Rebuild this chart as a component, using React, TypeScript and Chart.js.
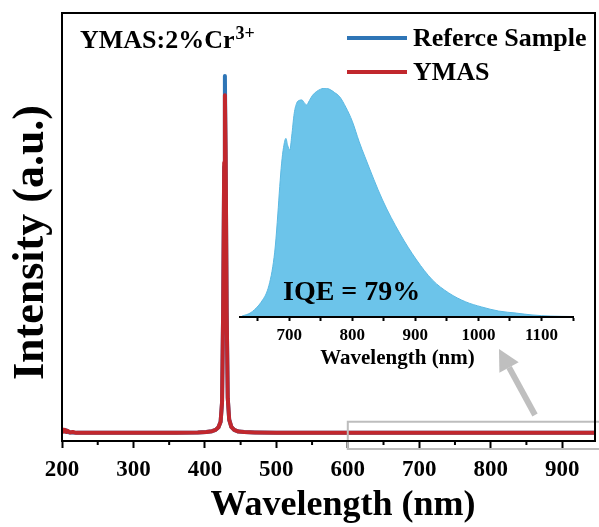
import React, { useEffect, useRef } from "react";
import { Chart, registerables } from "chart.js";

Chart.register(...registerables);

const W = 599;
const H = 527;
const SERIF = '"Liberation Serif", "Times New Roman", serif';

// ---- Main spectrum data ----
const mainWavelengths = [
  200, 202, 204, 206, 208, 211, 215, 220, 240, 280,
  320, 360, 390, 402, 410, 415, 419, 422, 424, 425.5,
  427, 428, 429, 430.5, 432, 434, 437, 441, 447, 455,
  470, 500, 560, 650, 750, 850, 946,
];
const referenceValues = [
  0.026, 0.024, 0.022, 0.025, 0.021, 0.02, 0.02, 0.019, 0.019, 0.019,
  0.019, 0.019, 0.02, 0.021, 0.023, 0.026, 0.032, 0.045, 0.09, 0.3,
  0.64, 0.853, 0.67, 0.3, 0.1, 0.05, 0.033, 0.026, 0.022, 0.021,
  0.02, 0.019, 0.019, 0.019, 0.019, 0.019, 0.019,
];
const ymasValues = [
  0.028, 0.022, 0.026, 0.021, 0.024, 0.02, 0.021, 0.019, 0.019, 0.019,
  0.019, 0.019, 0.02, 0.021, 0.023, 0.026, 0.032, 0.045, 0.09, 0.3,
  0.65, 0.808, 0.68, 0.3, 0.1, 0.05, 0.033, 0.026, 0.022, 0.021,
  0.02, 0.019, 0.019, 0.019, 0.019, 0.019, 0.019,
];
const seriesLabels = ["Referce Sample", "YMAS"];
const seriesColors = ["#2E75B6", "#C1272D"];
const mainMajorTicks = [200, 300, 400, 500, 600, 700, 800, 900];
const mainMinorTicks = [250, 350, 450, 550, 650, 750, 850];
const zoomRangeStart = 600;

// ---- Inset emission spectrum ----
const insetWavelengths = [
  625, 632, 638, 645, 652, 658, 664, 669, 674, 678,
  682, 685, 688, 691, 694.8, 697.5, 701, 704, 708, 712,
  716, 720, 724, 727.5, 732, 737, 743, 750, 757, 765,
  772, 780, 790, 800, 811, 820, 848, 875, 902, 927,
  953, 980, 1005, 1032, 1060, 1085, 1115, 1150,
];
const insetIntensity = [
  0.004, 0.01, 0.017, 0.032, 0.052, 0.075, 0.105, 0.15, 0.22, 0.31,
  0.45, 0.57, 0.672, 0.74, 0.78, 0.75, 0.729, 0.79, 0.89, 0.935,
  0.946, 0.948, 0.935, 0.926, 0.945, 0.968, 0.984, 0.995, 1.0, 0.993,
  0.98, 0.962, 0.915, 0.855, 0.765, 0.7, 0.511, 0.367, 0.249, 0.162,
  0.105, 0.066, 0.044, 0.026, 0.017, 0.009, 0.004, 0.002,
];
const insetTicks = [650, 700, 750, 800, 850, 900, 950, 1000, 1050, 1100, 1150];
const insetLabelTicks = [700, 800, 900, 1000, 1100];

const sampleText = "YMAS:2%Cr";
const sampleSup = "3+";
const iqeText = "IQE = 79%";

const mainDecorPlugin = {
  id: "mainDecor",
  afterDraw(chart: any) {
    const { ctx, chartArea: a } = chart;
    const x = chart.scales.x;
    const y = chart.scales.y;
    ctx.save();

    // zoom box
    const bx = x.getPixelForValue(zoomRangeStart);
    const by = y.getPixelForValue(0.045);
    ctx.strokeStyle = "#BDBDBD";
    ctx.lineWidth = 2;
    ctx.strokeRect(bx, by, chart.width + 10 - bx, a.bottom + 8 - by);

    // arrow
    const tail = { x: 535, y: 415 };
    const tip = { x: 499, y: 349 };
    const ang = Math.atan2(tip.y - tail.y, tip.x - tail.x);
    const hl = 21, hw = 22;
    const bxh = tip.x - hl * Math.cos(ang);
    const byh = tip.y - hl * Math.sin(ang);
    ctx.strokeStyle = "#BFBFBF";
    ctx.fillStyle = "#BFBFBF";
    ctx.lineWidth = 6;
    ctx.beginPath();
    ctx.moveTo(tail.x, tail.y);
    ctx.lineTo(bxh, byh);
    ctx.stroke();
    const px = -Math.sin(ang), py = Math.cos(ang);
    ctx.beginPath();
    ctx.moveTo(tip.x, tip.y);
    ctx.lineTo(bxh + px * hw / 2, byh + py * hw / 2);
    ctx.lineTo(bxh - px * hw / 2, byh - py * hw / 2);
    ctx.closePath();
    ctx.fill();

    // frame
    ctx.strokeStyle = "#000";
    ctx.lineWidth = 2;
    ctx.strokeRect(a.left, a.top, a.right - a.left, a.bottom - a.top);
    // minor ticks
    ctx.beginPath();
    for (const v of mainMinorTicks) {
      const p = x.getPixelForValue(v);
      ctx.moveTo(p, a.bottom);
      ctx.lineTo(p, a.bottom + 4);
    }
    ctx.stroke();

    ctx.fillStyle = "#000";
    // x title
    ctx.font = `bold 36px ${SERIF}`;
    ctx.textAlign = "center";
    ctx.textBaseline = "alphabetic";
    ctx.fillText("Wavelength (nm)", 343, 515);

    // y title
    ctx.save();
    ctx.translate(43, 242.5);
    ctx.rotate(-Math.PI / 2);
    ctx.font = `bold 44px ${SERIF}`;
    ctx.textAlign = "center";
    ctx.fillText("Intensity (a.u.)", 0, 0);
    ctx.restore();

    // sample label
    ctx.textAlign = "left";
    ctx.font = `bold 26px ${SERIF}`;
    ctx.fillText(sampleText, 80, 48);
    const sw = ctx.measureText(sampleText).width;
    ctx.font = `bold 18px ${SERIF}`;
    ctx.fillText(sampleSup, 80 + sw + 1, 39);

    // legend
    const ds = chart.data.datasets;
    ctx.font = `bold 26px ${SERIF}`;
    ds.forEach((d: any, i: number) => {
      const base = 46 + i * 34;
      ctx.strokeStyle = d.borderColor;
      ctx.lineWidth = 4;
      ctx.beginPath();
      ctx.moveTo(347, base - 8);
      ctx.lineTo(407, base - 8);
      ctx.stroke();
      ctx.fillStyle = "#000";
      ctx.fillText(d.label, 413, base);
    });
    ctx.restore();
  },
};

const insetDecorPlugin = {
  id: "insetDecor",
  afterDraw(chart: any) {
    const { ctx } = chart;
    ctx.save();
    ctx.fillStyle = "#000";
    ctx.textBaseline = "alphabetic";
    ctx.textAlign = "left";
    ctx.font = `bold 28px ${SERIF}`;
    ctx.fillText(iqeText, 283, 300);
    ctx.textAlign = "center";
    ctx.font = `bold 21px ${SERIF}`;
    ctx.fillText("Wavelength (nm)", 397.5, 364);
    ctx.restore();
  },
};

export default function App() {
  const mainRef = useRef<HTMLCanvasElement>(null);
  const insetRef = useRef<HTMLCanvasElement>(null);

  useEffect(() => {
    const mainChart = new Chart(mainRef.current as HTMLCanvasElement, {
      type: "line",
      data: {
        datasets: [
          {
            label: seriesLabels[0],
            data: mainWavelengths.map((w, i) => ({ x: w, y: referenceValues[i] })),
            borderColor: seriesColors[0],
            borderWidth: 4,
            pointRadius: 0,
            tension: 0,
            borderJoinStyle: "round",
            borderCapStyle: "round",
            order: 1,
          },
          {
            label: seriesLabels[1],
            data: mainWavelengths.map((w, i) => ({ x: w, y: ymasValues[i] })),
            borderColor: seriesColors[1],
            borderWidth: 4,
            pointRadius: 0,
            tension: 0,
            borderJoinStyle: "round",
            borderCapStyle: "round",
            order: 0,
          },
        ],
      },
      options: {
        responsive: false,
        animation: false,
        events: [],
        layout: { padding: { left: 62, right: 4, top: 13, bottom: 0 } },
        plugins: { legend: { display: false }, tooltip: { enabled: false } },
        scales: {
          x: {
            type: "linear",
            min: 200,
            max: 946,
            afterBuildTicks: (s: any) => {
              s.ticks = mainMajorTicks.map((v) => ({ value: v }));
            },
            afterFit: (s: any) => {
              s.height = 86;
            },
            grid: {
              drawOnChartArea: false,
              drawTicks: true,
              tickLength: 7,
              tickWidth: 2,
              tickColor: "#000",
            },
            border: { display: false },
            ticks: {
              color: "#000",
              padding: 8,
              maxRotation: 0,
              autoSkip: false,
              font: { family: SERIF, size: 23, weight: "bold" },
              callback: (v: any) => String(v),
            },
          },
          y: { display: false, min: 0, max: 1 },
        },
      } as any,
      plugins: [mainDecorPlugin],
    });

    const insetChart = new Chart(insetRef.current as HTMLCanvasElement, {
      type: "line",
      data: {
        datasets: [
          {
            label: "Emission",
            data: insetWavelengths.map((w, i) => ({ x: w, y: insetIntensity[i] })),
            fill: "origin",
            backgroundColor: "#6CC4EA",
            borderColor: "#5BB8E2",
            borderWidth: 1,
            pointRadius: 0,
            cubicInterpolationMode: "monotone",
          },
        ],
      },
      options: {
        responsive: false,
        animation: false,
        events: [],
        layout: { padding: { left: 240, right: 26, top: 88, bottom: 0 } },
        plugins: { legend: { display: false }, tooltip: { enabled: false } },
        scales: {
          x: {
            type: "linear",
            min: 622,
            max: 1150,
            afterBuildTicks: (s: any) => {
              s.ticks = insetTicks.map((v) => ({ value: v }));
            },
            afterFit: (s: any) => {
              s.height = H - 317;
            },
            grid: {
              drawOnChartArea: false,
              drawTicks: true,
              tickLength: 4,
              tickWidth: 2,
              tickColor: "#000",
            },
            border: { display: true, color: "#000", width: 2, z: 1 },
            ticks: {
              color: "#000",
              padding: 4,
              maxRotation: 0,
              autoSkip: false,
              font: { family: SERIF, size: 17, weight: "bold" },
              callback: (v: any) => (insetLabelTicks.includes(v) ? String(v) : ""),
            },
          },
          y: { display: false, min: 0, max: 1 },
        },
      } as any,
      plugins: [insetDecorPlugin],
    });

    return () => {
      mainChart.destroy();
      insetChart.destroy();
    };
  }, []);

  return (
    <div style={{ position: "fixed", left: 0, top: 0, width: W, height: H, background: "#fff" }}>
      <canvas ref={mainRef} width={W} height={H} style={{ position: "absolute", left: 0, top: 0 }} />
      <canvas ref={insetRef} width={W} height={H} style={{ position: "absolute", left: 0, top: 0 }} />
    </div>
  );
}
